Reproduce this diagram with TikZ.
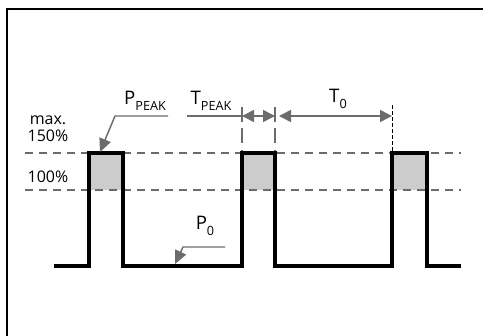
\documentclass[tikz,border=0pt]{standalone}
\usepackage{fontspec}
\setmainfont{Open Sans}
\usetikzlibrary{arrows.meta,positioning}

\newcommand{\lowidx}[1]{\raisebox{-4pt}{\fontsize{9.5}{10}\selectfont #1}}

\begin{document}
\begin{tikzpicture}[
        x=0.75pt, y=-0.75pt,
        frame/.style={line width=1.5pt, black},
        level/.style={gray!85!black, line width=1.1pt, dash pattern=on 6pt off 4.5pt},
        tick/.style={gray!85!black, line width=1.1pt, dash pattern=on 11pt off 5pt},
        fineline/.style={black, line width=0.6pt, dash pattern=on 3pt off 1.5pt},
        signal/.style={black, line width=2.3pt, line join=miter},
        peak/.style={fill=black!20, draw=none},
        leader/.style={gray!85!black, line width=1.1pt},
        tip/.style={-{Triangle[length=10pt, width=9pt]}},
        dim/.style={{Triangle[length=9pt, width=9pt]}-{Triangle[length=9pt, width=9pt]}},
        lbl/.style={font=\fontsize{14}{16}\selectfont, inner sep=1pt},
        pct/.style={font=\fontsize{12}{14}\selectfont, inner sep=1pt}
    ]

    \useasboundingbox (0,0) rectangle (483,336);

    % Frame
    \draw[frame] (7,336) -- (7,9) -- (483,9);

    % Peak areas
    \foreach \xa/\xb in {89/123, 242/275, 392/427}
        \fill[peak] (\xa,153) rectangle (\xb,190);

    % Levels 150% and 100%
    \draw[level] (25,153) -- (461,153);
    \draw[level] (25,190) -- (461,190);

    % Power signal
    \draw[signal] (54,266) -| (89,153) -| (123,266) -| (242,153) -| (275,266)
        -| (392,153) -| (427,266) -- (461,266);

    % Level labels
    \node[pct] (lblmax) at (48,120) {max.};
    \node[pct] (lbl150) at (48,136) {150\%};
    \node[pct] (lbl100) at (48,177) {100\%};

    % P_PEAK
    \node[lbl] (ppeak) at (145,101) {P\lowidx{PEAK}};
    \coordinate (ppeakend) at (168,116);
    \coordinate (ppeakbend) at (115,116);
    \coordinate (ppeaktip) at (100,152);
    \draw[leader, tip] (ppeakend) -- (ppeakbend) -- (ppeaktip);

    % T_PEAK and T_0
    \node[lbl] (tpeak) at (211,101) {T\lowidx{PEAK}};
    \node[lbl] (tzero) at (338,99) {T\lowidx{0}};
    \coordinate (tpeakstart) at (187,116);
    \coordinate (tpeaka) at (242,116);
    \coordinate (tpeakb) at (275,116);
    \coordinate (tzerob) at (392,116);
    \draw[tick] (242,107) -- (242,151);
    \draw[tick] (275,107) -- (275,151);
    \draw[fineline] (392,105) -- (392,153);
    \draw[leader] (tpeakstart) -- (tpeaka);
    \draw[leader, dim] (tpeaka) -- (tpeakb);
    \draw[leader, dim] ([xshift=3pt]tpeakb) -- (tzerob);

    % P_0
    \node[lbl] (pzero) at (205,226) {P\lowidx{0}};
    \coordinate (pzeroend) at (225,247);
    \coordinate (pzerobend) at (183,247);
    \coordinate (pzerotip) at (175,264);
    \draw[leader, tip] (pzeroend) -- (pzerobend) -- (pzerotip);

\end{tikzpicture}
\end{document}
